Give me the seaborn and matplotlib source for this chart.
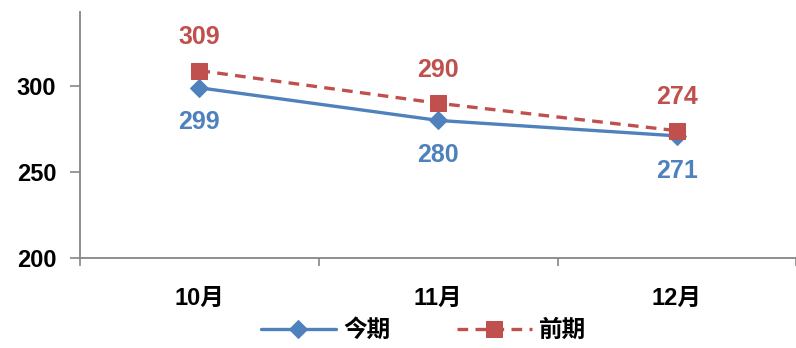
import matplotlib
matplotlib.use("Agg")
import matplotlib.pyplot as plt
import seaborn as sns
import pandas as pd

months = ["10月", "11月", "12月"]
current = [299, 280, 271]
previous = [309, 290, 274]
series_names = ["今期", "前期"]
y_ticks = [200, 250, 300]

blue = "#4F81BD"
red = "#C0504D"
axis_gray = "#868686"

sns.set_theme(style="white")
plt.rcParams["font.family"] = ["Liberation Sans", "Noto Sans CJK SC", "DejaVu Sans"]

df = pd.DataFrame({
    "month": months * 2,
    "value": current + previous,
    "series": [series_names[0]] * 3 + [series_names[1]] * 3,
})

fig = plt.figure(figsize=(7.96, 3.48), dpi=100)
ax = fig.add_axes([0.1005, 0.259, 0.9, 0.706])

sns.lineplot(data=df[df.series == series_names[0]], x="month", y="value",
             color=blue, lw=2.4, marker="D", markersize=9,
             markeredgecolor=blue, ax=ax, label=series_names[0])
sns.lineplot(data=df[df.series == series_names[1]], x="month", y="value",
             color=red, lw=2.4, marker="s", markersize=11,
             markeredgecolor=red, dashes=False, ax=ax, label=series_names[1])
ax.lines[1].set_linestyle((0, (3.2, 2.2)))

# value labels: previous above, current below
for i, (c, p) in enumerate(zip(current, previous)):
    ax.annotate(str(p), (i, p), xytext=(0, 24), textcoords="offset points",
                ha="center", va="center", color=red, fontsize=18, fontweight="bold")
    ax.annotate(str(c), (i, c), xytext=(0, -25), textcoords="offset points",
                ha="center", va="center", color=blue, fontsize=18, fontweight="bold")

ax.set_xlim(-0.5, 2.5)
ax.set_ylim(200, 343)
ax.set_yticks(y_ticks)
ax.set_xticks([0, 1, 2])
ax.set_xticklabels(months)
ax.set_xticks([-0.5, 0.5, 1.5, 2.5], minor=True)
ax.set_xlabel("")
ax.set_ylabel("")

for side in ["top", "right"]:
    ax.spines[side].set_visible(False)
for side in ["left", "bottom"]:
    ax.spines[side].set_color(axis_gray)
    ax.spines[side].set_linewidth(1.3)

ax.tick_params(axis="y", which="major", direction="out", length=7, width=1.2,
               color=axis_gray, left=True, labelsize=17, pad=10, labelcolor="black")
ax.tick_params(axis="x", which="major", length=0, labelsize=17, pad=21,
               labelcolor="black")
ax.tick_params(axis="x", which="minor", direction="out", length=6, width=1.2,
               color=axis_gray, bottom=True)
for lbl in ax.get_xticklabels() + ax.get_yticklabels():
    lbl.set_fontweight("bold")

ax.get_legend().remove()
handles, labels = ax.get_legend_handles_labels()
leg = fig.legend(handles, labels, loc="center", bbox_to_anchor=(0.532, 0.05), ncol=2,
                 frameon=False, handlelength=3.2, columnspacing=2.8,
                 handletextpad=0.3, prop={"weight": "bold", "size": 17})
for t in leg.get_texts():
    t.set_color("black")

fig.savefig("out.png", dpi=100)
